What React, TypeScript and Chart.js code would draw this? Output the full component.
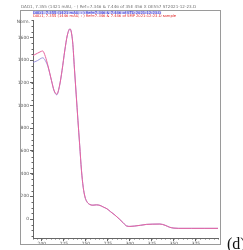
import React, { useEffect, useRef } from "react";
import { Chart, registerables } from "chart.js";

Chart.register(...registerables);

const wavelengths = [190, 192, 195, 198, 201, 204, 207, 211, 214, 217, 220, 223, 226, 229, 232, 235, 237, 239, 241, 243, 245, 247, 249, 251, 254, 258, 262, 266, 270, 274, 278, 283, 288, 292, 296, 300, 305, 312, 319, 326, 334, 340, 345, 350, 355, 370, 385, 400];
const seriesRed = [1440, 1448, 1460, 1472, 1480, 1432, 1350, 1220, 1130, 1100, 1170, 1310, 1480, 1620, 1675, 1560, 1330, 1100, 870, 650, 430, 280, 195, 155, 130, 122, 125, 120, 105, 90, 65, 35, 0, -30, -60, -65, -62, -55, -47, -45, -44, -55, -72, -80, -82, -82, -82, -82];
const seriesBlue = [1380, 1385, 1395, 1410, 1420, 1395, 1342, 1218, 1128, 1094, 1168, 1310, 1480, 1620, 1675, 1560, 1330, 1100, 870, 650, 430, 280, 195, 155, 130, 122, 125, 120, 105, 90, 65, 35, 0, -30, -60, -65, -62, -55, -47, -45, -44, -55, -72, -80, -82, -82, -82, -82];
const xTickLabels = [200, 225, 250, 275, 300, 325, 350, 375];
const yTickLabels = [0, 200, 400, 600, 800, 1000, 1200, 1400, 1600];

const headerText = "DAD1, 7.355 (1421 mAU, - ) Ref=7.346 & 7.446 of 35E 456 X OE557 ST2021-12-23.D";
const legendBlue = "DAD1, 7.355 (1421 mAU, - ) Ref=7.346 & 7.446 of STD 2021-12-23.D";
const legendRed = "DAD1, 7.355 (1446 mAU, - ) Ref=7.346 & 7.446 of SMP 2021-12-23.D sample";

const decorPlugin = {
  id: "decor",
  beforeDraw(chart: any) {
    const ctx = chart.ctx;
    ctx.save();
    ctx.fillStyle = "#ffffff";
    ctx.fillRect(0, 0, chart.width, chart.height);
    ctx.restore();
  },
  afterDraw(chart: any) {
    const ctx = chart.ctx;
    const xs = chart.scales.x;
    const ys = chart.scales.y;
    ctx.save();
    ctx.strokeStyle = "#9a9a9a";
    ctx.lineWidth = 1;
    ctx.strokeRect(20.5, 10.5, 200, 234);
    ctx.fillStyle = "#707070";
    ctx.font = "4.1px 'DejaVu Sans'";
    ctx.textBaseline = "middle";
    ctx.textAlign = "left";
    ctx.fillText(headerText, 21, 7);
    ctx.font = "3.7px 'DejaVu Sans'";
    const wB = ctx.measureText(legendBlue).width;
    ctx.fillStyle = "#c9c9f5";
    ctx.fillRect(33, 11, wB, 3);
    ctx.fillStyle = "#2a2ad0";
    ctx.fillText(legendBlue, 33, 12.6);
    ctx.fillStyle = "#e02020";
    ctx.fillText(legendRed, 33, 15.8);
    ctx.fillStyle = "#555";
    ctx.font = "4.4px 'DejaVu Sans'";
    ctx.textAlign = "right";
    ctx.fillText("Norm.", 30, 22);
    ctx.strokeStyle = "#666";
    ctx.beginPath();
    for (let v = 190; v <= 400; v += 5) {
      const px = Math.round(xs.getPixelForValue(v)) + 0.5;
      ctx.moveTo(px, xs.top);
      ctx.lineTo(px, xs.top + 1.5);
    }
    for (let v = -150; v <= 1750; v += 50) {
      const py = Math.round(ys.getPixelForValue(v)) + 0.5;
      ctx.moveTo(ys.right, py);
      ctx.lineTo(ys.right - 1.5, py);
    }
    ctx.stroke();
    ctx.fillStyle = "#111";
    ctx.font = "16px 'Liberation Serif'";
    ctx.textAlign = "left";
    ctx.textBaseline = "alphabetic";
    ctx.fillText("(d)", 227, 249);
    ctx.restore();
  },
};

export default function App() {
  const ref = useRef<HTMLCanvasElement | null>(null);
  useEffect(() => {
    if (!ref.current) return;
    const chart = new Chart(ref.current, {
      type: "line",
      data: {
        datasets: [
          {
            label: "red",
            data: wavelengths.map((w, i) => ({ x: w, y: seriesRed[i] })),
            borderColor: "rgba(232,100,160,1)",
            borderWidth: 1,
            pointRadius: 0,
            cubicInterpolationMode: "monotone",
            order: 1,
          },
          {
            label: "blue",
            data: wavelengths.map((w, i) => ({ x: w, y: seriesBlue[i] })),
            borderColor: "rgba(140,130,215,0.85)",
            borderWidth: 1,
            pointRadius: 0,
            cubicInterpolationMode: "monotone",
            order: 2,
          },
        ],
      },
      options: {
        responsive: false,
        animation: false,
        layout: { padding: { left: 0, top: 20, right: 25, bottom: 4 } },
        plugins: { legend: { display: false }, tooltip: { enabled: false } },
        scales: {
          x: {
            type: "linear",
            min: 190,
            max: 400,
            afterBuildTicks: (s: any) => {
              s.ticks = xTickLabels.map((v) => ({ value: v }));
            },
            afterFit: (s: any) => {
              s.height = 8;
            },
            grid: { drawOnChartArea: false, drawTicks: true, tickLength: 3, color: "#666" },
            border: { display: true, color: "#666", width: 1 },
            ticks: {
              autoSkip: false,
              maxRotation: 0,
              padding: 0,
              color: "#555",
              font: { family: "DejaVu Sans", size: 4.4 },
              callback: (v: any) => String(v),
            },
          },
          y: {
            type: "linear",
            min: -167,
            max: 1753,
            afterBuildTicks: (s: any) => {
              s.ticks = yTickLabels.map((v) => ({ value: v }));
            },
            afterFit: (s: any) => {
              s.width = 33;
            },
            grid: { drawOnChartArea: false, drawTicks: true, tickLength: 3, color: "#666" },
            border: { display: true, color: "#666", width: 1 },
            ticks: {
              autoSkip: false,
              padding: 1,
              color: "#555",
              font: { family: "DejaVu Sans", size: 4.4 },
              callback: (v: any) => String(v),
            },
          },
        },
      },
      plugins: [decorPlugin],
    } as any);
    return () => chart.destroy();
  }, []);
  return (
    <div style={{ position: "absolute", left: 0, top: 0, width: 243, height: 250, overflow: "hidden", background: "#fff" }}>
      <canvas ref={ref} width={243} height={250} style={{ width: 243, height: 250, display: "block" }} />
    </div>
  );
}
